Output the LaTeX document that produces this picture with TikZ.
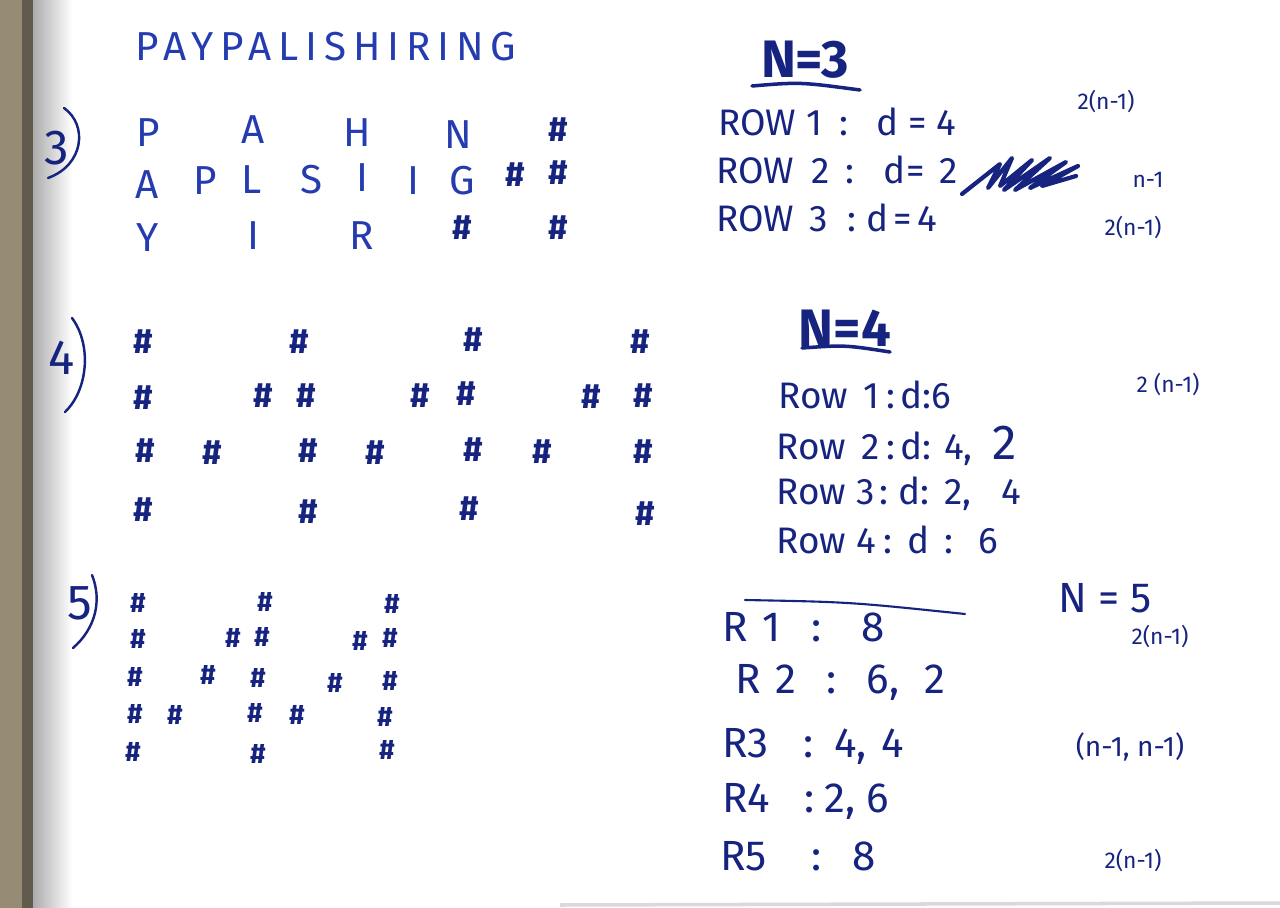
\documentclass[tikz,border=0pt]{standalone}
\usepackage{fontspec}
\setmainfont{Fira Sans}
\usetikzlibrary{positioning}
\definecolor{ink}{RGB}{22,36,128}
\definecolor{inkpale}{RGB}{36,60,176}
\definecolor{binding}{RGB}{150,140,118}
\tikzset{
	x=0.02cm, y=-0.02cm, % one unit is one pixel of the page
	hand/.style={text=ink, inner sep=0pt, anchor=west, font=\fontsize{21}{24}\selectfont}, % the written rows
	bighand/.style={hand, font=\fontsize{24}{28}\selectfont},
	head/.style={text=ink, inner sep=0pt, font=\bfseries\fontsize{30}{34}\selectfont}, % N = ... headings
	note/.style={text=ink, inner sep=0pt, font=\fontsize{13}{15}\selectfont}, % small notes on the right
	letter/.style={text=inkpale, inner sep=0pt, font=\fontsize{23}{26}\selectfont}, % zigzag letters
	hash/.style={text=ink, inner sep=0pt, font=\bfseries\fontsize{20}{24}\selectfont}, % the # marks
	smallhash/.style={hash, font=\bfseries\fontsize{16}{18}\selectfont},
	casenum/.style={text=ink, inner sep=0pt, font=\fontsize{28}{32}\selectfont}, % 3) 4) 5)
	bracket/.style={draw=ink, line width=1.4pt, line cap=round},
	underline/.style={draw=ink, line width=2pt, line cap=round},
}
\newcommand{\gap}[1]{\hspace{#1cm}}

\begin{document}
\begin{tikzpicture}
	\useasboundingbox (0,0) rectangle (1280,908);
	\fill[white] (0,0) rectangle (1280,908);
	% binding on the left
	\shade[left color=gray!70, right color=white] (30,0) rectangle (72,908);
	\fill[binding] (0,0) rectangle (22,908);
	\fill[binding!65!black] (22,0) rectangle (33,908);
	\draw[gray!30, line width=2pt] (560,905) -- (1280,903);

	\node[letter, font=\addfontfeature{LetterSpace=17}\fontsize{23}{26}\selectfont] (word) at (326,47) {PAYPALISHIRING};

	% three rows
	\node[casenum] (lab3) at (57,148) {3};
	\draw[bracket] (64,108) .. controls (88,125) and (84,165) .. (48,178);
	\node[letter] (p1) at (148,133) {P}; \node[letter] (a1) at (253,130) {A}; \node[letter] (h1) at (357,133) {H};
	\node[letter] (n1) at (458,135) {N}; \node[hash] (x1) at (558,130) {\#};
	\node[letter] (a2) at (147,185) {A}; \node[letter] (p2) at (205,181) {P}; \node[letter] (l2) at (252,180) {L};
	\node[letter] (s2) at (312,180) {S}; \node[letter] (i2) at (362,178) {I}; \node[letter] (j2) at (413,181) {I};
	\node[letter] (g2) at (462,181) {G}; \node[hash] (x2) at (515,175) {\#}; \node[hash] (y2) at (558,173) {\#};
	\node[letter] (y3) at (148,238) {Y}; \node[letter] (i3) at (253,236) {I}; \node[letter] (r3) at (362,236) {R};
	\node[hash] (x3) at (462,228) {\#}; \node[hash] (y3h) at (558,228) {\#};

	\node[head] (n3) at (805,60) {N=3};
	\draw[underline] (752,86) .. controls (800,82) .. (860,90);
	\node[hand] (n3r1) at (718,122) {ROW\gap{0.2}1\gap{0.35}:\gap{0.55}d\gap{0.2}=\gap{0.2}4};
	\node[hand] (n3r2) at (716,170) {ROW\gap{0.35}2\gap{0.3}:\gap{0.6}d=\gap{0.3}2};
	\node[hand] (n3r3) at (716,218) {ROW\gap{0.3}3\gap{0.4}:\gap{0.2}d\gap{0.1}=\gap{0.1}4};
	% scribbled-out text
	\draw[draw=ink, line width=2.4pt, line join=round, line cap=round] (962,194) -- (1000,164) -- (988,188) -- (1012,158) -- (1000,186) -- (1032,160) -- (1004,190) -- (1050,158) -- (1015,190) -- (1066,162) -- (1030,188) -- (1078,166) -- (1042,186) -- (1076,176);
	\node[note] (n3s1) at (1106,102) {2(n-1)};
	\node[note] (n3s2) at (1148,180) {n-1};
	\node[note] (n3s3) at (1133,228) {2(n-1)};

	% four rows
	\node[casenum] (lab4) at (62,358) {4};
	\draw[bracket] (72,318) .. controls (92,345) and (88,390) .. (65,412);
	\node[hash] (a41) at (143,342) {\#}; \node[hash] (b41) at (299,342) {\#}; \node[hash] (c41) at (473,340) {\#}; \node[hash] (d41) at (640,342) {\#};
	\node[hash] (a42) at (143,398) {\#}; \node[hash] (b42) at (263,396) {\#}; \node[hash] (c42) at (306,396) {\#}; \node[hash] (d42) at (420,396) {\#};
	\node[hash] (e42) at (466,394) {\#}; \node[hash] (f42) at (591,397) {\#}; \node[hash] (g42) at (643,396) {\#};
	\node[hash] (a43) at (145,451) {\#}; \node[hash] (b43) at (212,453) {\#}; \node[hash] (c43) at (308,451) {\#}; \node[hash] (d43) at (375,453) {\#};
	\node[hash] (e43) at (473,450) {\#}; \node[hash] (f43) at (542,452) {\#}; \node[hash] (g43) at (643,452) {\#};
	\node[hash] (a44) at (143,510) {\#}; \node[hash] (b44) at (308,512) {\#}; \node[hash] (c44) at (469,509) {\#}; \node[hash] (d44) at (645,514) {\#};

	\node[head] (n4) at (845,328) {N=4};
	\draw[underline] (802,348) .. controls (845,345) .. (890,352);
	\node[hand] (n4r1) at (778,395) {Row\gap{0.3}1\gap{0.15}:\gap{0.1}d:6};
	\node[hand, anchor=base west] (n4r2) at (776,459) {Row\gap{0.3}2\gap{0.15}:\gap{0.1}d:\gap{0.25}4,\gap{0.4}{\fontsize{28}{32}\selectfont 2}};
	\node[hand] (n4r3) at (776,494) {Row\gap{0.2}3\gap{0.1}:\gap{0.2}d:\gap{0.3}2,\gap{0.6}4};
	\node[hand] (n4r4) at (776,540) {Row\gap{0.2}4\gap{0.15}:\gap{0.3}d\gap{0.3}:\gap{0.5}6};
	\node[note] (n4s1) at (1168,385) {2 (n-1)};

	% five rows
	\node[casenum] (lab5) at (80,603) {5};
	\draw[bracket] (92,575) .. controls (102,600) and (96,628) .. (73,648);
	\node[smallhash] (a51) at (138,603) {\#}; \node[smallhash] (b51) at (265,602) {\#}; \node[smallhash] (c51) at (392,604) {\#};
	\node[smallhash] (a52) at (138,639) {\#}; \node[smallhash] (b52) at (233,638) {\#}; \node[smallhash] (c52) at (262,637) {\#};
	\node[smallhash] (d52) at (360,641) {\#}; \node[smallhash] (e52) at (390,638) {\#};
	\node[smallhash] (a53) at (135,677) {\#}; \node[smallhash] (b53) at (208,675) {\#}; \node[smallhash] (c53) at (258,678) {\#};
	\node[smallhash] (d53) at (335,683) {\#}; \node[smallhash] (e53) at (390,681) {\#};
	\node[smallhash] (a54) at (135,714) {\#}; \node[smallhash] (b54) at (175,715) {\#}; \node[smallhash] (c54) at (255,713) {\#};
	\node[smallhash] (d54) at (297,715) {\#}; \node[smallhash] (e54) at (385,717) {\#};
	\node[smallhash] (a55) at (133,752) {\#}; \node[smallhash] (b55) at (258,754) {\#}; \node[smallhash] (c55) at (387,750) {\#};

	\node[head, font=\fontsize{24}{28}\selectfont] (n5) at (1105,598) {N = 5};
	\draw[draw=ink, line width=1.2pt, line cap=round] (745,600) .. controls (850,602) .. (965,614);
	\node[bighand] (n5r1) at (722,627) {R\gap{0.3}1\gap{0.6}:\gap{0.8}8};
	\node[bighand] (n5r2) at (735,682) {R\gap{0.3}2\gap{0.6}:\gap{0.6}6,\gap{0.5}2};
	\node[bighand] (n5r3) at (722,746) {R3\gap{0.7}:\gap{0.4}4,\gap{0.3}4};
	\node[bighand] (n5r4) at (722,801) {R4\gap{0.7}:\gap{0.2}2, 6};
	\node[bighand] (n5r5) at (720,856) {R5\gap{0.9}:\gap{0.6}8};
	\node[note] (n5s1) at (1160,637) {2(n-1)};
	\node[note, font=\fontsize{16}{18}\selectfont] (n5s3) at (1130,747) {(n-1,\ n-1)};
	\node[note] (n5s5) at (1133,860) {2(n-1)};
\end{tikzpicture}
\end{document}
